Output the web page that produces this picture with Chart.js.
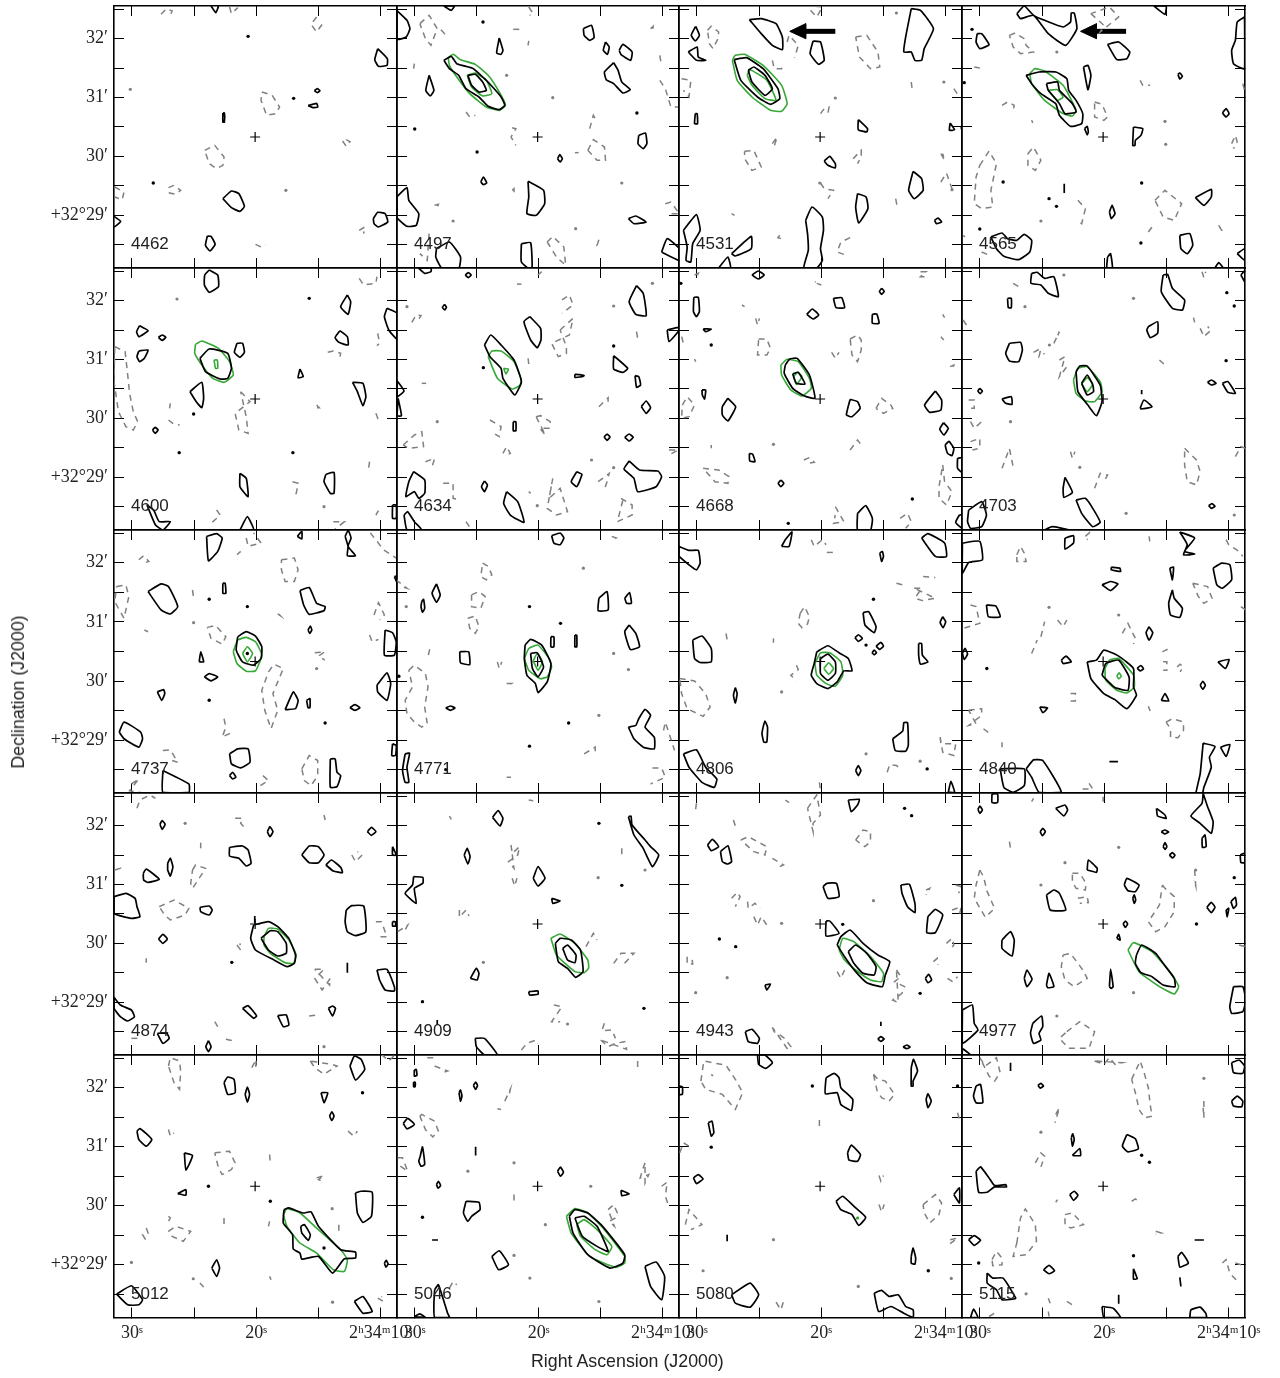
<!DOCTYPE html>
<html>
<head>
<meta charset="utf-8">
<title>Channel maps</title>
<script src="https://cdn.jsdelivr.net/npm/chart.js@4"></script>
<style>
body { margin: 0; background: #fff; width: 1280px; height: 1378px; overflow: hidden; position: relative; }
canvas { position: absolute; left: 0; top: 0; }
.chan { position: absolute; font: 17px/17px "Liberation Sans", sans-serif; color: #222; }
.axtitle { position: absolute; font: 17.8px/18px "Liberation Sans", sans-serif; color: #222; white-space: nowrap; }
</style>
</head>
<body>
<script>
// Axes
const xTickValues = [30, 25, 20, 15, 10];
const xTickLabels = ['30ˢ', '', '20ˢ', '', '2ʰ34ᵐ10ˢ'];
const yTickValues = [32.5, 32, 31.5, 31, 30.5, 30, 29.5, 29, 28.5];
const yTickLabels = ['', '32′', '', '31′', '', '30′', '', '+32°29′', ''];
const raRange = [8.69, 31.43];      // RA seconds past 2h34m
const decRange = [28.106, 32.554];  // Dec arcmin past +32deg
const raCentre = 20.09, decCentre = 30.33;  // the cross
const raPerStep = 1 / 33.6, decPerStep = 1 / 176.7;  // contours are stored as map steps from the cross (west, north)
const channels = [4462, 4497, 4531, 4565, 4600, 4634, 4668, 4703, 4737, 4771, 4806, 4840, 4874, 4909, 4943, 4977, 5012, 5046, 5080, 5115];

// Channel 4462
const black4462 = [[-119,393,-106,373,-99,393,-99,420,-119,420],[331,265,323,232,333,212,356,215,357,235],[160,139,168,145,175,139,168,133],[143,94,166,101,169,90,156,88],[-87,72,-83,72,-83,45,-87,45],[-87,-185,-64,-162,-44,-170,-29,-208,-41,-223,-64,-212],[319,-245,331,-226,351,-230,358,-255,333,-270,321,-260],[-381,-238,-363,-253,-381,-270,-400,-255],[-129,-297,-119,-298,-108,-322,-122,-342,-134,-325]];
const gray4462 = [[-254,368,-239,385,-224,378,-229,365],[-69,390,-64,370,-47,388],[166,360,151,338,166,315,181,338],[18,135,46,125,66,90,56,70,31,65,16,110],[236,-12,246,-28,256,-14,246,-8],[-136,-40,-109,-25,-84,-60,-87,-85,-104,-95,-124,-80],[-379,-150,-354,-165,-359,-188,-379,-180],[-234,-152,-219,-145,-201,-160,-214,-172,-231,-168],[281,-280,296,-270,293,-290],[1,-322,16,-330,28,-323]];
const green4462 = [];
const blackDots4462 = [[-19,302],[104,116],[-275,-138]];
const grayDots4462 = [[-337,143],[83,-160]];

// Channel 4497
const black4497 = [[-382,380,-354,350,-346,325,-356,300,-382,293],[-254,393,-234,380,-226,393],[124,325,146,335,153,298,141,290,126,305],[184,285,194,270,189,248,178,260],[221,260,231,278,256,255,252,230,226,247],[-104,297,-94,260,-99,248,-111,252],[-254,230,-234,242,-219,220,-174,205,-144,175,-122,150,-99,120,-89,95,-104,82,-134,92,-159,120,-194,145,-214,185,-239,205],[-189,185,-169,188,-149,165,-139,140,-159,135,-179,155],[-294,185,-281,140,-291,123,-303,140],[206,223,218,200,228,165,251,142,231,132,206,160,186,172,181,195],[274,5,292,12,296,-20,286,-35,272,-20],[54,-65,60,-53,67,-65,61,-75],[-154,-135,-147,-120,-138,-138,-147,-143],[-26,-133,16,-160,19,-200,-4,-235,-29,-230,-24,-180],[-382,-180,-354,-152,-349,-190,-322,-230,-329,-265,-354,-268,-382,-240],[246,-245,266,-237,294,-255,261,-260],[-274,-335,-239,-315,-209,-360,-214,-395,-259,-395,-276,-360],[-44,-320,-19,-317,-16,-400,-44,-375],[336,-345,351,-305,384,-335,384,-370]];
const gray4497 = [[-319,340,-294,365,-272,325,-289,275,-304,295],[-262,322,-252,310,-244,322],[-24,390,-12,370,-22,365],[-66,323,-46,323],[-24,288,-26,275],[-334,220,-336,205],[331,245,334,225],[306,325,313,332,311,315],[-194,75,-184,60,-169,65],[331,170,346,145,361,90,384,90],[-69,28,-59,25,-72,0,-59,-25],[141,25,151,65,161,45],[136,-40,151,-8,181,-30,184,-70,161,-70],[101,-47,111,-47],[-69,-160,-64,-155,-64,-168],[-279,-205,-269,-202,-276,-220],[346,-200,361,-195,384,-230,351,-230],[26,-315,41,-298,71,-330,76,-385,51,-360],[166,-308,161,-325,174,-320],[-294,-290,-299,-370,-319,-350]];
const green4497 = [[-242,238,-229,248,-209,232,-169,218,-134,185,-104,135,-87,95,-104,80,-139,90,-184,130,-219,180,-239,215],[-191,185,-169,192,-139,170,-124,130,-149,123,-179,150]];
const blackDots4497 = [[-148,345],[-333,24],[-164,-45],[269,72]];
const grayDots4497 = [[-84,185],[41,118],[228,-138],[-229,-252],[103,-275]];

// Channel 4531
const black4531 = [[-336,332,-326,305,-337,288,-348,305],[-356,255,-332,270,-329,240,-309,230,-334,230],[-191,352,-159,355,-119,340,-102,300,-102,262,-129,275,-159,310],[-19,288,1,285,11,230,-4,218,-27,250],[246,385,271,380,306,325,281,265,274,230,256,230,246,255,226,255,231,300],[-232,232,-199,238,-154,205,-114,145,-109,115,-134,98,-169,120,-214,170],[-194,200,-179,210,-149,185,-129,145,-149,125,-184,165],[-337,70,-332,70,-331,40,-339,40],[103,52,128,25,126,15,103,22],[351,42,363,22,349,20],[388,48,396,28,388,10,381,28],[11,-72,26,-58,41,-80,41,-93,21,-85],[251,-103,274,-125,278,-160,254,-185,239,-160],[101,-170,124,-180,129,-215,104,-258,96,-210],[309,-250,318,-243,328,-255,314,-260],[-369,-280,-334,-233,-324,-280,-344,-320,-349,-375,-362,-370,-359,-330],[-239,-350,-186,-298,-186,-335,-229,-357],[-39,-250,-22,-210,6,-240,9,-280,1,-335,6,-370,-9,-393,-44,-393,-32,-340,-34,-290],[-274,-393,-249,-360,-242,-393]];
const gray4531 = [[-304,320,-294,332,-274,315,-276,295,-289,265,-299,280],[-89,285,-84,305,-59,275,-69,238],[-26,380,-9,360,6,390,-24,393],[96,300,126,305,156,255,161,210,136,205,106,240],[-129,230,-124,205,-104,205,-101,215],[246,165,249,140],[-374,175,-349,170,-354,120,-369,140],[361,145,376,120],[1,70,11,85,24,90,21,70],[-129,-20,-116,0,-124,-28],[-204,-43,-179,-40,-159,-90,-184,-100,-204,-65],[89,-65,111,-40,111,-60,101,-80],[326,-50,336,-70,331,-50],[326,-135,341,-108,356,-155,351,-160],[1,-138,11,-155,36,-160,21,-185],[204,-185,208,-208],[-239,-230,-231,-235],[-109,-295,-114,-302,-104,-305],[81,-302,56,-315,46,-345,64,-352]];
const green4531 = [[-237,230,-229,245,-204,248,-154,215,-104,155,-89,100,-104,77,-134,80,-184,120,-224,170],[-197,185,-189,202,-144,170,-119,110,-149,115,-184,155]];
const blackDots4531 = [];
const grayDots4531 = [[41,117],[206,372],[334,165],[-1,-138],[356,-158]];
const arrowHead4531 = [-82,317,-39,340,-39,295];
const arrowShaft4531 = [-39,317,41,317];

// Channel 4565
const black4565 = [[-233,370,-213,393,-188,365,-158,350,-108,330,-88,345,-86,372,-78,372,-71,325,-101,275,-148,310,-188,365,-223,355],[137,393,167,368,170,393],[-340,310,-328,310,-308,277,-333,265,-343,285],[12,278,42,285,72,255,64,235,37,232],[382,360,362,345,357,290,347,260,352,220,382,205],[-53,210,-41,215,-33,185,-41,142],[202,188,207,192,214,182,207,174],[-208,185,-173,195,-128,195,-98,175,-93,140,-73,110,-55,70,-58,40,-88,32,-118,65,-128,100,-168,130,-193,160],[-153,160,-123,165,-118,140,-83,100,-73,75,-103,70,-118,100,-148,140],[322,72,332,85,340,70,332,60],[-50,25,-43,32,-40,15,-43,7],[82,30,107,25,102,5,87,-10,86,-25,80,-25],[249,-182,292,-157,292,-180,272,-205],[17,-225,24,-205,32,-230,22,-245],[207,-295,234,-290,242,-325,227,-350,210,-335],[-303,-300,-273,-288,-258,-305,-233,-310,-213,-292,-193,-310,-198,-345,-228,-368,-268,-358,-288,-335],[12,-360,20,-350,25,-393,10,-393],[302,-393,312,-377,324,-393],[362,-350,382,-335,382,-370],[-105,-140,-105,-168]];
const gray4565 = [[-253,305,-238,312,-213,295,-208,275,-188,255,-223,250,-243,270],[-33,370,2,335,-8,315,42,360,17,390],[-348,210,-333,207],[100,170,107,155,127,155],[-273,95,-258,105,-240,95,-243,80],[-23,105,-3,98,12,60,2,50,-23,60],[-193,50,-190,42],[-203,-50,-188,-30,-168,-70,-183,-100,-203,-85],[-333,-85,-308,-42,-288,-80,-303,-160,-298,-210,-328,-215,-348,-200,-343,-120],[-68,-190,-48,-215,-58,-260,-71,-250],[140,-190,167,-160,212,-200,192,-250,162,-240],[122,-285,132,-270],[312,-265,320,-280,307,-280],[347,-20,357,5,362,-15,352,-35],[377,160,382,140],[-378,-295,-373,-300],[-328,-345,-313,-352]];
const green4565 = [[-198,190,-185,205,-158,198,-108,155,-73,80,-83,63,-108,70,-158,110,-193,160],[-148,140,-123,142,-108,120,-123,110]];
const blackDots4565 = [[-354,323],[-375,163],[-270,-135],[-146,-185],[-126,-208],[104,-138],[-333,-276],[102,-318]];
const grayDots4565 = [[167,47],[169,-22],[-168,-252],[-125,255]];
const arrowHead4565 = [-61,317,-18,340,-18,295];
const arrowShaft4565 = [-18,317,62,317];

// Channel 4600
const black4600 = [[-124,387,-101,372,-99,337,-124,320,-137,342,-136,372],[249,312,258,292,251,254,231,277],[356,272,383,257,383,180,361,207,349,247],[-312,220,-289,205,-314,187,-320,202],[-261,185,-251,192,-241,185,-251,176],[229,205,249,187,251,162,226,170,216,184],[-314,144,-289,147,-299,122,-312,112,-319,127],[-49,167,-34,167,-29,140,-41,125,-56,140],[-149,122,-124,150,-74,137,-64,92,-74,62,-94,60,-134,82],[121,90,130,67,116,64],[263,50,291,47,299,7,291,-20,276,22],[-176,22,-144,50,-139,2,-144,-26,-159,-8],[-277,-93,-270,-85,-262,-93,-270,-103],[-41,-223,-24,-238,-19,-293,-41,-263],[191,-226,213,-220,213,-283,203,-283,186,-248],[-292,-318,-274,-333,-259,-368,-229,-368,-249,-393,-269,-378],[-41,-393,-21,-353,-4,-393],[371,-318,381,-318,381,-358,371,-358]];
const gray4600 = [[281,362,293,342,326,347,329,367],[331,197,336,167,329,160],[196,140,211,144,231,137,229,127],[-379,157,-351,142,-344,72,-339,17,-329,-38,-317,-68,-329,-93,-349,-83,-369,-38,-381,52],[-229,-13,-231,-28],[-234,-63,-219,-76,-204,-78],[-39,22,-14,-8,-54,-43,-44,-93,-19,-103,-24,-53],[166,-18,173,-26,161,-26],[326,-43,333,-63],[309,-188,306,-210],[101,-248,116,-253,111,-283,101,-295],[-104,-333,-94,-348,-114,-368,-104,-380],[211,-368,241,-368,213,-393],[326,-348,333,-335]];
const green4600 = [[-161,164,-144,174,-99,152,-69,112,-59,72,-84,50,-114,62,-144,102,-163,137],[-111,117,-102,117,-101,92,-107,92]];
const blackDots4600 = [[-166,-45],[-205,-161],[102,-161],[146,302]];
const grayDots4600 = [[-211,300],[186,-323]];

// Channel 4634
const black4634 = [[-324,394,-306,377,-289,382,-289,394],[-196,372,-188,379,-180,372,-188,364],[-252,284,-247,275,-252,267,-258,275],[268,340,286,317,294,250,266,254,248,292],[-21,247,8,212,9,177,-1,154,-19,177,-37,232],[-144,162,-127,192,-99,162,-64,117,-44,52,-62,12,-94,62,-99,92,-129,127],[351,207,381,215,384,207,356,172],[206,130,244,92,231,80,206,90],[101,74,114,73,126,70,114,66,101,65],[264,70,274,67,279,42,268,35],[281,-23,294,-6,306,-26,294,-43],[-66,-68,-59,-68,-59,-95,-66,-95],[180,-114,188,-105,196,-114,188,-124],[236,-115,248,-105,259,-115,248,-126],[248,-186,276,-213,326,-216,336,-233,321,-263,271,-278,261,-238,234,-210],[106,-218,120,-226,106,-263,91,-248],[-144,-246,-136,-258,-144,-278,-152,-263],[-336,-218,-306,-243,-306,-283,-322,-298,-334,-278,-357,-293,-349,-248],[-84,-278,-54,-308,-37,-370,-74,-348,-92,-313],[-362,-348,-352,-338,-334,-368,-314,-393,-354,-393],[-381,55,-362,24,-381,7],[-378,2,-369,-50,-381,-50]];
const gray4634 = [[-341,230,-329,252,-316,250,-326,232],[66,297,86,312,96,282,66,257],[61,207,96,242,86,192,38,167,56,127,78,137,78,157],[-56,345,-44,344],[1,372,11,382],[-26,122,-24,105],[268,202,271,182,278,187],[-314,47,-302,47],[166,-23,191,4,191,-18],[-129,-63,-99,-83,-104,-113,-119,-103],[-4,-53,8,-50,34,-68,31,-88,6,-88,21,-108],[-364,-138,-334,-108,-314,-98,-309,-143,-349,-148],[-94,-163,-84,-143,-74,-163,-84,-168],[-304,-188,-279,-178,-289,-213],[356,-153,381,-153,356,-168],[164,-248,194,-223,188,-248,181,-270],[-256,-253,-229,-253,-229,-298,-209,-303],[-24,-278,-19,-283],[41,-238,31,-298,61,-268,81,-338,51,-348,26,-328],[226,-298,256,-318,256,-348,216,-368,231,-303],[-194,-368,-179,-393]];
const green4634 = [[-134,127,-124,144,-99,144,-64,112,-44,57,-49,40,-69,30,-109,62],[-92,92,-79,90,-86,75]];
const blackDots4634 = [[-147,94],[206,159]];
const grayDots4634 = [[146,-183],[-354,277],[206,279],[311,347],[-272,-68],[-1,-320],[206,-206]];

// Channel 4668
const black4668 = [[-184,372,-167,384,-151,372,-167,360],[166,332,173,323,166,314,160,323],[-341,305,-329,305,-326,262,-334,247,-342,262],[36,302,58,304,66,274,43,274],[-36,254,-21,270,-4,252,-19,240],[141,254,153,255,159,227,141,227],[-316,210,-294,210,-309,202],[-94,102,-82,120,-62,122,-29,72,-14,2,-44,10,-74,32,-97,77],[-74,75,-59,80,-41,45,-64,47],[-319,27,-309,27,-312,0,-318,12],[-249,2,-228,-23,-249,-66,-264,-48,-264,-23],[81,-1,101,-8,108,-28,86,-53,71,-48],[311,24,328,-3,326,-33,296,-40,282,-18],[333,-71,346,-88,334,-108,323,-90],[348,-126,361,-148,356,-170,344,-163,338,-138],[371,-178,384,-176,384,-220,371,-208],[-191,-163,-182,-166,-176,-188,-190,-186],[-106,-243,-98,-253,-106,-263,-113,-253],[101,-343,123,-320,141,-358,136,-393,101,-393],[376,-348,384,-348,384,-388,366,-370]];
const gray4668 = [[-339,372,-329,377,-334,364],[-9,347,3,342,-14,352],[271,382,286,382,271,367,284,367],[-211,282,-204,277],[-174,242,-169,222,-164,242],[331,254,336,244],[-166,180,-144,180,-134,152,-144,132,-169,132],[81,180,101,192,111,177,111,147,101,112,86,132],[31,140,41,122,51,140],[326,187,334,177],[-339,120,-336,112],[351,97,361,102,356,82],[-372,-18,-359,7,-339,-18,-354,-53,-374,-58],[151,-28,166,2,191,-18,196,-28,171,-43],[-374,187,-369,167],[-294,-138,-294,-148],[81,-153,101,-123,111,-138],[-44,-183,-29,-176,-16,-190,-34,-193],[-316,-208,-274,-213,-246,-233,-249,-253,-284,-248],[331,-198,336,-248,356,-278,341,-318,321,-298,321,-263],[41,-323,64,-368,36,-373,41,-348],[216,-358,236,-343,246,-368,231,-388]];
const green4668 = [[-106,102,-89,119,-59,112,-29,62,-24,32,-49,9,-79,27,-104,72],[-72,67,-61,80,-49,67,-64,44]];
const blackDots4668 = [[-294,162],[-86,-373],[-376,347],[249,-300]];
const grayDots4668 = [[-126,-136]];

// Channel 4703
const black4703 = [[-193,377,-178,380,-158,362,-133,367,-121,307,-148,317,-168,342,-195,347],[162,372,174,374,187,332,220,297,214,267,187,272,157,322],[-258,302,-248,302,-248,274,-256,274],[122,217,147,232,147,197,127,184,118,207],[-253,167,-223,170,-218,147,-228,112,-253,114,-263,137],[282,50,292,57,305,47,292,42],[322,47,337,52,357,17,337,20],[-73,82,-63,99,-43,99,-8,42,-3,-8,-18,-50,-38,-23,-68,22],[-58,47,-43,72,-28,42,-26,22,-43,12],[-333,32,-326,24,-332,16,-338,24],[-273,0,-248,7,-246,-16,-263,-13],[104,27,104,14],[100,-28,110,-3,132,-23,102,-30],[-103,-235,-83,-280,-106,-295,-108,-268],[-73,-303,-48,-298,-28,-328,-8,-370,-28,-383,-58,-343],[-363,-333,-328,-308,-315,-348,-328,-383,-358,-388,-366,-368],[285,-320,294,-314,302,-322,292,-328],[372,372,385,387,385,347],[-158,-393,-138,-383,-93,-393,-118,-408]];
const gray4703 = [[-243,347,-228,337],[267,382,272,364,277,382],[-378,237,-363,212],[244,244,247,230],[262,212,272,187,292,207,282,217],[-188,140,-168,152,-173,127,-158,137],[-133,167,-118,202,-128,177],[-118,117,-103,127,-118,67,-98,97],[152,117,167,102],[-363,-3,-348,-3,-348,-28,-363,-28],[-358,-68,-348,-88,-328,-68],[-358,-128,-333,-118,-333,-148,-353,-153],[-273,-208,-253,-148,-243,-203],[-88,-158,-83,-178,-76,-158],[-23,-268,-8,-223,12,-228,2,-248],[220,-148,252,-183,262,-218,252,-258,227,-248,220,-198],[357,-173,372,-143,385,-148]];
const green4703 = [[-80,57,-68,92,-43,97,-8,52,-3,22,-23,-8,-48,-6,-73,17],[-58,45,-43,64,-28,45,-43,22]];
const blackDots4703 = [[334,319],[332,115],[354,279]];
const grayDots4703 = [[-106,372],[-211,277],[82,302],[-145,162],[-63,-205],[-250,-68],[62,-343],[354,-348]];

// Channel 4737
const black4737 = [[-131,374,-104,382,-89,369,-101,329,-126,301],[114,374,126,389,126,366],[243,374,251,392,259,369,251,344,271,316,249,316,251,344],[-87,234,-81,234,-79,204,-87,204],[-289,209,-254,232,-234,224,-209,164,-229,142,-254,154],[121,212,146,221,166,174,189,164,186,152,146,141,131,169],[143,94,149,106,153,94,147,84],[-47,74,-24,89,1,76,18,44,16,9,-4,-11,-34,-1,-51,34],[-151,-1,-147,29,-139,-1],[351,94,371,86,381,59,376,19,349,19],[-137,-46,-124,-36,-101,-46,-119,-58],[-264,-91,-247,-84,-244,-96,-252,-116],[329,-71,356,-34,366,-66,356,-116,331,-91],[81,-144,103,-91,116,-116,109,-141],[139,-116,148,-111,148,-138,143,-138],[256,-138,269,-129,283,-138,269,-146],[-367,-211,-354,-181,-309,-211,-304,-231,-314,-256,-354,-231],[-69,-276,-47,-261,-19,-261,-14,-301,-39,-318,-64,-306],[-69,-341,-61,-331,-52,-346,-61,-351],[203,-291,216,-291,221,-331,231,-341,221,-374,203,-376],[-249,-326,-179,-366,-179,-391,-249,-391],[376,254,383,254,383,236],[371,-246,381,-251,379,-281,369,-281]];
const gray4737 = [[-314,304,-301,316,-287,299,-301,294],[-24,369,-19,344,16,354,-4,384],[-49,319,-39,329],[71,304,106,309,116,274,106,239,81,239,71,274],[311,384,326,364,346,334,381,309],[-374,224,-349,229,-341,194,-354,129,-379,179],[-169,214,-167,196],[61,142,69,136,59,149],[-299,94,-289,89],[-129,102,-107,108,-79,74,-89,52,-119,69],[309,79,316,59,333,66],[161,26,188,29,171,16,188,4],[321,139,333,176,349,139,336,124],[36,-31,51,-8,76,-21,61,-61,48,-96,61,-146,43,-201,26,-146,18,-86],[-84,-171,-79,-196,-89,-226,-61,-211],[-249,-266,-229,-264,-209,-301,-224,-296],[126,-321,146,-281,169,-296,169,-341,151,-371,133,-356],[21,-341,36,-356,6,-376],[-334,-366,-314,-351,-339,-386,-289,-396]];
const green4737 = [[-59,29,-47,64,-24,72,1,59,18,19,1,-28,-24,-29,-49,-6],[-34,24,-21,44,-7,24,-21,-1]];
const blackDots4737 = [[-124,186],[-21,164],[-124,-116],[189,-184],[-21,24]];
const grayDots4737 = [[-166,116],[166,-21]];

// Channel 4771
const black4771 = [[38,376,61,384,71,369,61,349,44,354],[-274,232,-264,199,-274,177,-286,204],[-314,179,-309,186,-306,159,-312,147,-316,164],[166,189,188,209,191,154,164,152],[236,189,249,206,254,174,241,174],[248,109,266,84,276,44,251,36,236,89],[36,74,44,74,44,44,36,44],[101,79,106,79,106,44,101,44],[-34,49,-19,66,11,49,36,-6,26,-61,1,-93,-6,-66,-29,-41,-36,9],[-19,24,-1,26,16,-16,1,-46,-14,-21],[-211,29,-187,29,-184,-9,-209,-4],[-249,-139,-236,-133,-224,-139,-236,-146],[246,-196,266,-191,274,-171,291,-143,306,-161,291,-196,316,-226,316,-261,286,-256,261,-231],[-359,-276,-347,-274,-354,-316,-349,-361,-359,-361,-366,-326]];
const gray4771 = [[-149,294,-134,284,-124,259,-139,244,-154,254],[-179,199,-159,209,-142,194,-154,159,-179,164],[-189,129,-169,136,-159,104,-169,84,-184,99],[-384,244,-354,219,-369,224],[201,374,213,369,206,364],[-296,19,-292,39],[-109,-1,-104,-21,-97,-1],[-349,-26,-334,-11,-304,-36,-297,-76,-306,-136,-299,-186,-314,-196,-334,-181,-354,-156,-359,-116,-339,-76],[-84,-66,-71,-66,-84,-74],[126,-276,156,-256,156,-276],[341,-206,346,-181,371,-266],[311,-318,336,-318,346,-346,306,-366],[-84,-346,-72,-346]];
const green4771 = [[-36,9,-24,39,1,49,31,9,38,-16,26,-46,6,-51,-24,-26],[-12,2,-1,24,13,-1,1,-26]];
const blackDots4771 = [[-22,164],[62,114],[84,-184],[-22,-253],[-376,-44],[-249,-323]];
const grayDots4771 = [[124,279],[-356,164],[206,24],[246,-24],[166,-161]];

// Channel 4806
const black4806 = [[-104,344,-94,364,-76,387,-84,344],[-382,344,-354,332,-329,332,-324,294,-334,274,-354,289,-382,316],[274,369,291,382,336,354,341,314,311,314],[161,324,168,329,171,314,166,299],[116,146,131,149,151,104,146,86,121,109],[94,71,103,80,114,69,103,60],[151,46,164,57,171,46,161,36],[140,26,146,34,152,26,146,20],[331,134,339,119,332,101,324,117],[266,54,274,54,276,19,291,-1,271,-8,266,19],[-344,64,-319,76,-294,39,-294,-1,-324,-3,-339,9],[-9,29,21,47,51,26,76,9,86,-28,64,-28,46,-61,21,-81,-9,-66,-24,-41,-16,-6],[1,9,21,22,41,-1,41,-36,21,-56,1,-36],[-229,-78,-224,-96,-229,-124,-234,-101],[-154,-196,-149,-178,-142,-196,-144,-241,-152,-241,-157,-216],[196,-231,223,-208,226,-183,236,-183,238,-251,231,-268,203,-266],[-369,-276,-334,-264,-309,-316,-279,-351,-286,-376,-319,-361,-354,-316],[96,-326,103,-311,110,-326,103,-341],[346,-391,353,-358,363,-391]];
const gray4806 = [[-24,364,-16,344,6,364,16,349],[18,326,36,326],[206,234,224,229],[278,254,311,251],[254,219,274,219,256,189,276,182,311,189],[-54,144,-42,164,-29,134,-34,112,-49,101,-59,114],[-254,84,-251,64],[-126,69,-126,56],[-64,-11,-59,-24,-79,-41,-64,-58],[-379,-51,-339,-58,-309,-96,-297,-136,-316,-164,-359,-141,-374,-96],[324,-226,326,-246,366,-246,361,-281,331,-271],[181,-331,188,-308,206,-311,219,-321],[-2,-361,1,-386]];
const green4806 = [[-14,-6,1,26,26,26,56,-1,61,-41,41,-74,16,-66,-9,-41],[10,-21,23,-4,36,-21,23,-38]];
const blackDots4806 = [[289,-321],[144,186],[124,49]];
const grayDots4806 = [[-104,-91],[124,-276],[270,-298]];

// Channel 4840
const black4840 = [[-380,354,-333,359,-326,304,-363,296,-380,264],[-103,369,-80,376,-80,354,-103,336],[22,282,45,279,47,269,22,274],[180,279,190,282,187,244],[-3,229,20,239,40,232,20,212],[297,279,320,294,342,289,347,244,322,219,307,229],[207,387,247,369,220,329,247,321,217,319,227,349],[187,214,192,189,214,159,207,132,182,139,177,174],[-315,169,-290,166,-278,134,-310,134],[124,104,134,86,124,64,116,86],[-380,24,-373,39,-366,22,-375,6],[-43,-1,-18,4,2,34,42,16,82,-21,82,-76,90,-101,64,-141,32,-114,2,-96,-33,-51],[-3,-41,7,-6,42,4,70,-46,67,-86,32,-78],[-113,4,-100,16,-86,-1,-108,-6],[92,-20,102,-12,109,-22,100,-28],[310,-1,340,6,330,-21],[262,-71,269,-59,276,-71,269,-83],[157,-116,167,-96,177,-118],[-171,-136,-150,-139,-163,-153],[270,-244,302,-254,287,-286,292,-316,272,-376,267,-399,250,-399,262,-336],[317,-256,342,-248,332,-284],[17,-299,40,-299],[-278,-321,-213,-321,-213,-371,-243,-391,-268,-376],[-208,-321,-188,-294,-163,-296,-113,-391,-173,-391,-193,-346]];
const gray4840 = [[-48,374,-38,384,-43,364],[124,374,126,359],[-233,319,-223,344,-213,324,-208,299,-233,299],[332,364,339,349,367,329,377,314],[242,234,282,224,294,189,272,174,257,194],[-358,169,-343,164,-333,114,-378,99],[372,164,385,154],[-193,24,-178,64],[-168,74,-158,119],[-123,124,-108,104,-98,124],[52,84,67,114,87,69,82,52],[160,29,172,36,177,26],[162,-1,172,-1,172,-26,162,-26],[200,-16,208,-8,216,-16,208,-31],[-88,-96,-75,-96,-75,-118,-88,-118],[-363,-146,-328,-141,-328,-161,-363,-191,-343,-186],[122,-134,127,-148],[-323,-201,-308,-214,-318,-214],[-273,-241,-273,-256],[170,-181,187,-171,217,-181,217,-206,202,-228,182,-226,182,-201],[-38,-364,-28,-381,-68,-381]];
const green4840 = [[5,-21,17,4,42,9,82,-41,84,-76,64,-94,37,-86,7,-56],[37,-43,43,-34,49,-44,42,-52]];
const blackDots4840 = [[-314,-21]];
const grayDots4840 = [[42,139],[-146,162]];

// Channel 4874
const black4874 = [[-257,299,-251,310,-243,299,-251,284],[33,277,40,292,48,277,40,262],[303,277,314,290,326,277,314,266],[-69,230,-34,234,-19,222,-11,182,-24,174,-44,197,-69,204],[126,207,146,234,171,232,186,207,171,184,146,184],[191,177,206,192,231,170,236,154,211,159],[-236,182,-229,197,-222,172,-229,144,-236,162],[-302,152,-294,165,-259,134,-289,125,-301,132],[-381,82,-349,92,-324,77,-319,52,-311,22,-334,17,-381,32],[-149,50,-124,54,-116,42,-124,27,-147,37],[246,42,261,55,293,54,299,-23,271,-35,249,-23,243,7],[-261,-45,-249,-31,-237,-45,-249,-58],[-4,-3,36,7,61,-8,91,-43,109,-93,106,-118,86,-128,51,-108,1,-78,-12,-43],[16,-43,41,-20,61,-23,84,-58,84,-88,61,-96,36,-78],[-1,24,-1,2],[249,-116,249,-146],[329,-138,356,-136,376,-188,376,-201,351,-198,336,-168],[-381,-220,-364,-243,-334,-258,-326,-278,-344,-291,-364,-278,-381,-253],[-34,-253,-19,-245,4,-276,-4,-283],[61,-275,84,-273,91,-303,76,-308],[198,-253,209,-246,217,-253,209,-276],[-264,-328,-239,-328,-232,-343,-249,-358],[-126,-350,-119,-368,-126,-383,-133,-368],[371,232,371,207,381,207],[371,7,379,7,379,-6,371,-6],[261,-408,271,-396,281,-408]];
const gray4874 = [[-319,347,-311,372,-284,387,-269,377],[-54,317,-34,317,-39,302,-24,284],[-147,244,-147,227],[186,327,189,312],[-169,162,-161,177,-134,167,-154,132,-169,107,-174,122],[261,207,271,187,289,207,276,217],[-379,162,-364,167,-369,152],[-259,52,-219,72,-179,47,-189,27,-229,12,-244,27],[-49,-63,-39,-78,-41,-58],[-294,-103,-294,-116],[326,7,341,7,356,-38,326,-38],[161,-136,186,-136,161,-163,181,-198,203,-163,201,-183],[146,-276,166,-273],[-109,-293,-101,-308],[-79,-346,-61,-350],[-334,-343,-314,-343]];
const green4874 = [[24,-38,36,-13,61,-15,91,-48,111,-93,103,-118,81,-116,41,-88,24,-63]];
const blackDots4874 = [[-63,-115]];
const grayDots4874 = [[-189,302],[186,-368]];

// Channel 4909
const black4909 = [[-122,320,-107,340,-94,317,-102,294],[246,322,253,324,256,297,291,252,306,232,328,207,311,172,286,227,261,267],[-199,207,-191,227,-183,202,-189,180],[-12,137,1,172,20,137,1,114],[-336,142,-311,140,-311,122,-334,107,-329,62,-359,92,-339,117],[38,77,61,69,41,62],[48,-58,61,-43,91,-48,116,-78,123,-143,103,-160,81,-133,56,-113],[68,-73,81,-63,104,-93,101,-116,81,-108],[-182,-163,-166,-133,-159,-148,-164,-168],[-24,-203,1,-201,1,-211,-22,-213],[-169,-343,-144,-343,-109,-393,-144,-393,-166,-368],[-94,-393,-84,-408,-64,-393],[-272,-288,-272,-303]];
const gray4909 = [[-239,324,-234,314],[-24,372,-12,370],[-72,237,-69,212,-49,232,-54,207,-79,187,-64,167],[-69,137,-62,114,-56,137],[228,227,228,204],[-212,42,-212,20,-194,42,-186,24],[131,-68,151,-28,161,-48],[206,-118,226,-88,261,-88,231,-123],[44,-243,66,-248,38,-293,61,-293],[181,-298,174,-320,201,-318,211,-343],[171,-348,191,-368,211,-358,236,-353,241,-376],[-44,-378,-29,-358,-4,-348,1,-358],[-379,-23,-352,-3,-359,-18]];
const green4909 = [[36,-43,61,-30,101,-58,136,-108,138,-133,126,-146,101,-143,51,-93]];
const blackDots4909 = [[-312,-233],[288,-253],[228,116],[166,302]];
const grayDots4909 = [[164,139],[81,-300],[-147,-115],[291,162]];

// Channel 4943
const black4943 = [[76,372,106,374,101,357,84,337],[-304,237,-291,254,-274,232,-294,220],[-269,217,-249,235,-239,187,-249,180,-264,187],[8,112,18,122,44,122,51,82,21,77],[218,117,241,119,256,62,256,34,236,52,221,92],[291,22,311,44,331,27,311,-26,288,-26],[16,9,26,9,51,-28,16,-36],[46,-63,56,-38,81,-18,116,-58,156,-93,188,-113,176,-153,168,-188,126,-176,96,-143,66,-98],[76,-83,96,-63,126,-88,151,-128,146,-153,116,-148,91,-118],[284,-163,293,-151,301,-168,291,-176],[-149,-183,-134,-180,-144,-198],[-202,-323,-184,-316,-164,-343,-169,-358,-194,-353],[156,-345,164,-338,173,-345,164,-352],[224,-369,234,-363,243,-369,234,-374],[164,-293,164,-306]];
const gray4943 = [[-94,372,-84,364],[-34,347,-9,387,1,327,-19,302,-19,277],[-334,362,-336,344],[-234,312,-229,294],[-214,252,-194,262,-144,232,-149,207,-179,217,-204,242],[-129,197,-99,177,-109,172],[96,252,116,282,136,277,136,247,121,232],[-239,77,-224,95,-216,82,-229,52],[-196,67,-194,47,-176,62,-162,47],[-179,22,-169,-3,-159,22,-144,-3],[286,102,296,107,286,87],[366,117,381,112,374,92],[356,42,381,52,376,27],[341,-58,356,-43,361,-63,351,-76],[381,-58,396,-63],[-359,-98,-359,-120,-344,-120,-346,-103],[306,-113,316,-103,318,-123],[46,-143,56,-163,66,-138],[206,-138,218,-158,201,-173,228,-188,221,-208,196,-228,211,-236],[344,-163,358,-173,371,-158],[-129,-310,-124,-323,-109,-333,-96,-343,-79,-368,-86,-378]];
const green4943 = [[51,-78,61,-43,91,-53,136,-98,171,-148,166,-173,136,-168,96,-138,66,-108]];
const blackDots4943 = [[228,347],[247,325],[61,-1],[-272,-45],[-228,-68],[270,-208]];
const grayDots4943 = [[144,70],[-104,2],[-251,-161],[-336,-206]];

// Channel 4977
const black4977 = [[-300,390,-285,390,-285,364,-300,364],[-338,344,-333,354,-326,342,-333,332],[-128,347,-103,357,-96,342,-106,324],[144,347,167,327,170,317,147,324],[270,392,282,352,297,307,292,272,262,302,237,324,267,362],[-170,277,-163,287,-156,277,-164,265],[157,277,167,282,177,276,167,270],[267,257,275,267,278,232,268,230],[162,232,167,244,172,232,167,224],[179,207,187,214,194,206,187,198],[370,207,382,212,382,184,372,184],[-43,162,-40,192,-16,167,-18,155],[57,117,64,137,97,117,87,97,67,100],[80,77,84,87,88,72,84,62],[-153,87,-133,102,-118,92,-101,42,-143,42],[280,50,292,65,302,50,292,34],[345,67,357,80,360,57,352,47],[332,42,339,47,335,22],[54,0,60,9,66,0,60,-10],[-273,-48,-250,-23,-240,-48,-246,-96,-273,-73],[37,-43,42,-31,46,-48],[90,-93,104,-63,142,-88,162,-118,192,-163,194,-188,162,-183,132,-158,102,-146,87,-118],[-213,-163,-206,-138,-192,-166,-206,-188],[-153,-183,-146,-148,-133,-188,-150,-191],[17,-188,20,-135,27,-188,22,-193],[352,-188,377,-188,385,-228,377,-263,347,-268,342,-248],[-380,-258,-353,-243,-348,-298,-338,-318,-380,-358],[-190,-298,-166,-276,-163,-308,-173,-328,-168,-348,-188,-358,-196,-328],[-380,-373,-358,-393,-380,-393]];
const gray4977 = [[-193,367,-188,377],[0,382,0,367],[-253,247,-250,227],[-333,162,-323,142,-313,97,-293,47,-318,20,-348,77,-343,117],[-83,152,-63,152,-46,122,-48,102,-73,107,-83,127],[-68,77,-43,82,-40,64,-63,62],[160,117,167,107,192,82,192,37,167,-8,142,-23,122,7,152,57],[247,162,250,114,245,132],[-108,-93,-88,-88,-58,-133,-43,-163,-78,-188,-103,-168,-113,-128],[-98,-323,-63,-293,-23,-323,-38,-373,-93,-373,-118,-343],[367,-63,385,-68]];
const green4977 = [[67,-78,82,-56,132,-83,187,-153,204,-188,192,-210,152,-188,97,-143]];
const blackDots4977 = [[252,0],[354,139]];
const grayDots4977 = [[-103,184],[42,230],[82,-206],[-125,-276],[-168,117],[250,162]];

// Channel 5012
const black5012 = [[256,360,268,390,286,380,296,350,271,318],[-84,310,-74,327,-57,320,-54,280,-74,275],[-27,275,-21,297,-15,275,-21,252],[178,280,196,280,186,250],[201,210,207,223,213,210,207,197],[-319,165,-311,173,-279,140,-294,120,-314,140],[-191,100,-169,92,-187,48],[271,-20,286,-15,316,-18,314,-90,291,-108,276,-80],[-209,-22,-187,-10,-187,-27],[78,-70,91,-65,129,-80,151,-77,171,-120,231,-190,271,-197,271,-215,241,-217,209,-260,171,-210,126,-218,121,-200,103,-188,101,-145,76,-110],[123,-120,133,-115,149,-145,144,-162,126,-140],[-117,-245,-104,-220,-96,-245,-104,-270],[349,-230,354,-222,359,-233,353,-242],[-374,-323,-334,-298,-304,-340,-314,-355,-344,-355],[268,-345,291,-330,316,-375,291,-380]];
const gray5012 = [[-234,360,-229,385,-204,375,-201,345,-204,290,-219,310],[-9,355,3,380,1,345],[149,375,161,355,186,335,221,360,206,365],[341,395,361,375,383,400],[-234,170,-229,150,-219,160],[251,165,266,150,276,165],[-109,100,-69,105,-54,70,-64,50,-89,35,-99,55],[39,95,41,72],[166,25,186,32,171,20,188,10],[-84,-95,-84,-117],[-234,-90,-229,-95,-234,-105],[39,-105,36,-120],[226,-115,226,-140],[-294,-125,-289,-140,-304,-145,-291,-168],[-234,-135,-214,-120,-174,-135,-194,-165,-224,-150],[39,-270,43,-280],[-149,-290,-139,-302],[331,-335,346,-345,341,-330]];
const green5012 = [[76,-85,86,-67,121,-80,161,-120,231,-190,249,-220,241,-255,211,-250,166,-200,121,-170,86,-120]];
const blackDots5012 = [[290,280],[-126,0],[41,-45],[186,-185]];
const grayDots5012 = [[-334,-228],[208,-67],[-167,-277],[209,-347]];

// Channel 5046
const black5046 = [[-334,348,-329,350,-327,332,-334,330],[-336,312,-332,312,-332,298,-336,298],[-174,302,-168,312,-163,302,-168,290],[-213,280,-209,288,-205,270,-209,255],[-364,188,-352,203,-334,185,-354,172],[-168,118,-168,92],[-318,90,-312,118,-306,65,-316,60,-322,75],[54,45,62,57,70,42,62,30],[-274,5,-269,15,-263,2,-270,-6],[226,-12,248,-23,228,-28],[-194,-45,-159,-48,-156,-70,-179,-90,-189,-105,-201,-80],[86,-90,101,-70,136,-80,176,-120,236,-205,231,-230,196,-245,136,-205,96,-140],[101,-95,126,-90,161,-120,191,-195,161,-180,121,-150],[-124,-210,-104,-193,-79,-235,-106,-250],[291,-240,321,-227,344,-270,336,-340,306,-300],[-279,-310,-269,-295,-244,-380,-239,-393,-279,-393,-281,-350],[-334,-390,-319,-382,-304,-393],[-286,-161,-270,-161]];
const gray5046 = [[-299,385,-279,385],[-279,360,-244,345,-259,340],[-319,210,-314,215,-279,195,-269,165,-284,148,-304,170],[-89,255,-74,290,-79,265],[-109,232,-99,230],[-379,85,-366,85,-352,45,-372,60],[-64,-25,-64,-48],[271,375,271,350],[291,70,286,55,278,25,301,35,291,10],[336,0,351,12,346,-30,354,-55],[191,-70,206,-55,216,-80,211,-95,194,-105,208,-120],[-239,-305,-229,-285,-219,-295]];
const green5046 = [[78,-90,101,-67,136,-80,181,-130,236,-210,236,-230,211,-243,141,-210,91,-140],[106,-115,126,-100,161,-130,201,-180,188,-205,156,-190,116,-150]];
const blackDots5046 = [[-312,-93]];
const grayDots5046 = [[-64,70],[-189,45],[144,0],[21,-115],[-64,-207],[-21,-275],[166,-345]];

// Channel 5080
const black5080 = [[-169,393,-149,393,-129,370,-147,353,-166,365],[246,355,252,380,263,345,251,315,251,300,246,300],[16,325,38,338,51,325,56,295,88,260,84,227,56,245,46,280,14,277],[286,260,291,277,300,255,291,235],[-302,190,-292,195,-287,160,-294,150],[74,100,84,123,109,95,101,75,78,78],[-342,25,-329,35,-316,22,-334,8],[361,-25,376,-5,376,-50],[43,-45,61,-30,96,-65,123,-93,104,-117,86,-85,56,-70],[246,-210,251,-185,258,-215,256,-233,246,-230],[-239,-325,-189,-290,-166,-325,-189,-362,-229,-350],[146,-320,166,-312,186,-330,211,-325,231,-360,251,-370,251,-393,226,-380,191,-360,158,-375],[-251,-145,-251,-165],[-382,300,-372,298,-372,275,-382,275]];
const gray5080 = [[-322,315,-314,375,-254,362,-226,315,-209,280,-229,230,-264,275,-309,290],[-294,335,-289,330],[144,335,156,320,176,315,201,275,186,255,166,265,154,285],[-2,198,-2,172],[371,220,376,200],[-379,100,-369,130,-354,120],[159,32,164,15,171,32],[159,-55,166,-77,173,-55],[278,-55,311,-25,328,-50,321,-85,296,-110,281,-80],[-364,-115,-354,-70,-319,-115,-349,-130],[351,-160,371,-155,351,-172],[-119,-347,-106,-370,-99,-345]];
const green5080 = [[99,-93,103,-93,103,-97,99,-97]];
const blackDots5080 = [[-21,300],[-294,117],[292,-253],[371,300]];
const grayDots5080 = [[-316,-253],[103,-300],[354,-276],[-126,-160]];

// Channel 5115
const black5115 = [[347,370,367,378,382,360,377,338,352,340],[347,255,362,270,377,255,374,238,352,240],[-343,300,-331,305,-325,250,-343,250,-350,270],[-176,302,-168,308,-161,300,-170,294],[-86,145,-82,157,-78,140,-83,120],[64,155,87,142,95,112,67,103,52,120],[-83,92,-63,113,-61,92],[-343,45,-331,58,-308,25,-293,2,-263,5,-261,-2,-293,-2,-313,-18,-336,-18],[-90,-25,-78,-15,-68,-27,-80,-42],[-363,-160,-348,-148,-331,-162,-348,-177],[202,-210,212,-198,230,-230,207,-242],[-161,-250,-146,-237,-131,-253,-146,-262],[82,-247,92,-277,82,-278],[207,-273,210,-300],[247,-161,272,-161],[-313,-260,-298,-275,-270,-275,-236,-335,-243,-338,-273,-340,-288,-310,-313,-290],[-3,-360,27,-365,47,-393,2,-393],[42,-325,42,-352],[234,-393,237,-370,262,-362,277,-380,279,-393],[-358,-393,-350,-368,-338,-393],[-250,370,-250,345]];
const gray5115 = [[-333,385,-318,360,-288,385,-278,340,-293,315,-308,330],[-23,375,2,365,17,385,32,365,52,370],[77,320,100,375,112,335,122,295,127,245,132,210,112,205,97,230,87,280],[272,255,272,205,270,235],[-128,215,-118,235,-130,190],[-183,70,-168,100,-158,90,-168,58],[77,-45,87,-38,102,-48],[-128,-48,-123,-40],[-233,-170,-223,-95,-210,-68,-183,-115,-180,-165,-208,-205,-243,-210],[-103,-85,-83,-80,-53,-115,-88,-125,-103,-115],[142,-135,157,-140,142,-143],[-300,-220,-288,-195,-273,-215,-273,-235,-298,-238],[322,-230,332,-220,342,-260,367,-290],[357,-230,382,-238],[-148,-335,-143,-350],[-98,-345,-83,-355],[-148,-375,-146,-390],[-308,-390,-293,-380]];
const green5115 = [];
const blackDots5115 = [[-336,-230],[82,-208],[125,72],[104,93]];
const grayDots5115 = [[-168,162],[272,323],[-208,-322]];

const panels = [
    [black4462, gray4462, green4462, blackDots4462, grayDots4462],
    [black4497, gray4497, green4497, blackDots4497, grayDots4497],
    [black4531, gray4531, green4531, blackDots4531, grayDots4531, arrowHead4531, arrowShaft4531],
    [black4565, gray4565, green4565, blackDots4565, grayDots4565, arrowHead4565, arrowShaft4565],
    [black4600, gray4600, green4600, blackDots4600, grayDots4600],
    [black4634, gray4634, green4634, blackDots4634, grayDots4634],
    [black4668, gray4668, green4668, blackDots4668, grayDots4668],
    [black4703, gray4703, green4703, blackDots4703, grayDots4703],
    [black4737, gray4737, green4737, blackDots4737, grayDots4737],
    [black4771, gray4771, green4771, blackDots4771, grayDots4771],
    [black4806, gray4806, green4806, blackDots4806, grayDots4806],
    [black4840, gray4840, green4840, blackDots4840, grayDots4840],
    [black4874, gray4874, green4874, blackDots4874, grayDots4874],
    [black4909, gray4909, green4909, blackDots4909, grayDots4909],
    [black4943, gray4943, green4943, blackDots4943, grayDots4943],
    [black4977, gray4977, green4977, blackDots4977, grayDots4977],
    [black5012, gray5012, green5012, blackDots5012, grayDots5012],
    [black5046, gray5046, green5046, blackDots5046, grayDots5046],
    [black5080, gray5080, green5080, blackDots5080, grayDots5080],
    [black5115, gray5115, green5115, blackDots5115, grayDots5115]
];

// Panel edges on the page
const colEdges = [114, 397, 679, 962, 1245];
const rowEdges = [6, 268, 530, 793, 1055, 1317.5];
const yAxisBox = 100, xAxisBox = 40;  // room for tick labels on the outer panels

function toSky(west, north) {
    return { x: raCentre - west * raPerStep, y: decCentre + north * decPerStep };
}

function toPoints(flat, closed) {
    const pts = [];
    for (let i = 0; i < flat.length; i += 2) {
        pts.push(toSky(flat[i], flat[i + 1]));
    }
    if (closed) {
        pts.push(pts[0]);
    }
    return pts;
}

function contourSet(list, color, width, dash, tension) {
    return list.map(flat => ({
        data: toPoints(flat, !dash || flat.length >= 10),
        showLine: true,
        borderColor: color,
        borderWidth: width,
        borderDash: dash || [],
        pointRadius: 0,
        tension: tension || 0
    }));
}

function dotSet(list, color, radius) {
    return {
        data: list.map(p => toSky(p[0], p[1])),
        showLine: false,
        pointStyle: 'circle',
        pointRadius: radius,
        pointBackgroundColor: color,
        pointBorderWidth: 0
    };
}

function scaleOptions(range, reverse, position, values, labels, showLabels, padding) {
    const horizontal = position == 'top' || position == 'bottom';
    return {
        type: 'linear',
        position: position,
        min: range[0],
        max: range[1],
        reverse: reverse,
        afterBuildTicks: axis => { axis.ticks = values.map(v => ({ value: v })); },
        afterFit: axis => {
            if (horizontal) axis.height = showLabels ? xAxisBox : 0;
            else axis.width = showLabels ? yAxisBox : 0;
            axis.paddingLeft = axis.paddingRight = axis.paddingTop = axis.paddingBottom = 0;
        },
        grid: { drawOnChartArea: false, drawTicks: true, tickLength: -10, color: '#000', lineWidth: 1 },
        border: { display: true, color: '#000', width: 1.6 },
        ticks: {
            display: showLabels,
            autoSkip: false,
            maxRotation: 0,
            minRotation: 0,
            padding: padding,
            color: '#222',
            font: { family: '"Liberation Serif", "DejaVu Serif", serif', size: 18 },
            callback: value => labels[values.indexOf(value)] || ''
        }
    };
}

function drawPanel(index) {
    const col = index % 4, row = Math.floor(index / 4);
    const [black, gray, green, blackDots, grayDots, arrowHead, arrowShaft] = panels[index];
    const left = colEdges[col], right = colEdges[col + 1], top = rowEdges[row], bottom = rowEdges[row + 1];
    const hasYLabels = col == 0, hasXLabels = row == 4;

    const datasets = [].concat(
        contourSet(gray, '#808080', 1.5, [6, 5]),
        contourSet(black, '#000', 1.7, null, 0.15),
        contourSet(green, '#35a835', 1.6, null, 0.15),
        [dotSet(blackDots, '#000', 1.7), dotSet(grayDots, '#808080', 1.6)]
    );
    if (arrowHead) {
        datasets.push({ data: toPoints(arrowHead, true), showLine: true, fill: 'shape', backgroundColor: '#000', borderColor: '#000', borderWidth: 1, pointRadius: 0 });
        datasets.push({ data: toPoints(arrowShaft, false), showLine: true, borderColor: '#000', borderWidth: 5, pointRadius: 0 });
    }
    datasets.push({ data: [toSky(0, 0)], showLine: false, pointStyle: 'cross', pointRadius: 5, pointRotation: 0, pointBorderColor: '#000', pointBorderWidth: 1.2 });

    const canvas = document.createElement('canvas');
    canvas.width = 1280;
    canvas.height = 1378;
    document.body.appendChild(canvas);
    new Chart(canvas.getContext('2d'), {
        type: 'scatter',
        data: { datasets: datasets },
        options: {
            responsive: false,
            animation: false,
            events: [],
            layout: {
                autoPadding: false,
                padding: {
                    left: left - (hasYLabels ? yAxisBox : 0),
                    right: 1280 - right,
                    top: top,
                    bottom: 1378 - bottom - (hasXLabels ? xAxisBox : 0)
                }
            },
            plugins: { legend: { display: false }, tooltip: { enabled: false }, title: { display: false } },
            scales: {
                x: scaleOptions(raRange, true, 'bottom', xTickValues, xTickLabels, hasXLabels, 15),
                xTop: scaleOptions(raRange, true, 'top', xTickValues, xTickLabels, false, 0),
                y: scaleOptions(decRange, false, 'left', yTickValues, yTickLabels, hasYLabels, 16),
                yRight: scaleOptions(decRange, false, 'right', yTickValues, yTickLabels, false, 0)
            }
        }
    });

    const tag = document.createElement('div');
    tag.className = 'chan';
    tag.textContent = channels[index];
    tag.style.left = (left + 17) + 'px';
    tag.style.top = (bottom - 33) + 'px';
    document.body.appendChild(tag);
}

channels.forEach((c, i) => drawPanel(i));

const xTitle = document.createElement('div');
xTitle.className = 'axtitle';
xTitle.textContent = 'Right Ascension (J2000)';
xTitle.style.left = '531px';
xTitle.style.top = '1352px';
document.body.appendChild(xTitle);

const yTitle = document.createElement('div');
yTitle.className = 'axtitle';
yTitle.textContent = 'Declination (J2000)';
yTitle.style.left = '18px';
yTitle.style.top = '692px';
yTitle.style.transform = 'translate(-50%, -50%) rotate(-90deg)';
document.body.appendChild(yTitle);
</script>
</body>
</html>
